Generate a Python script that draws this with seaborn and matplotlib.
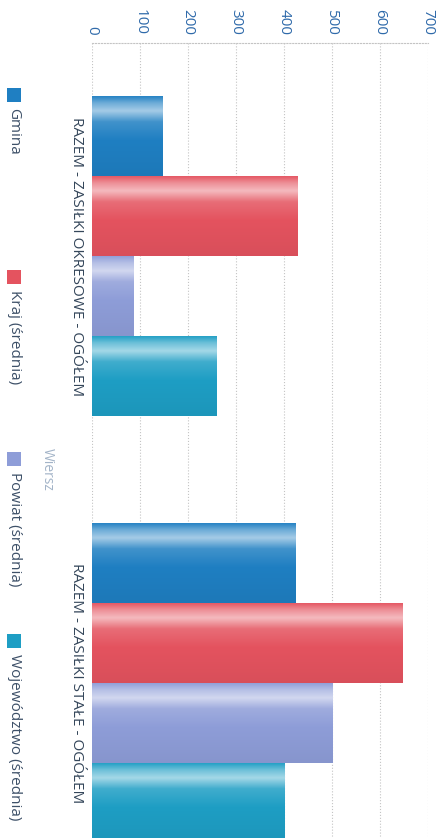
import matplotlib.pyplot as plt
import numpy as np
import pandas as pd
import seaborn as sns
from matplotlib.colors import to_rgb
from matplotlib.patches import Rectangle

categories = ["RAZEM - ZASIŁKI OKRESOWE - OGÓŁEM", "RAZEM - ZASIŁKI STAŁE - OGÓŁEM"]
series = ["Gmina", "Kraj (średnia)", "Powiat (średnia)", "Województwo (średnia)"]
gmina = [146, 425]
kraj = [429, 646]
powiat = [86, 502]
wojewodztwo = [260, 402]
value_ticks = [0, 100, 200, 300, 400, 500, 600, 700]

colors = ["#1f7fc2", "#e4535f", "#8e9dd8", "#1e9ec4"]

df = pd.DataFrame({
    "Wiersz": categories * len(series),
    "Seria": np.repeat(series, len(categories)),
    "Wartosc": gmina + kraj + powiat + wojewodztwo,
})

sns.set_theme(style="white")
plt.rcParams["font.family"] = ["Open Sans", "DejaVu Sans"]

W, H = 445, 838
fig = plt.figure(figsize=(W / 100, H / 100), dpi=100)
# chart is a rotated scan: value axis on top, categories running down
ax = fig.add_axes([92 / W, 1 - 896 / H, 336 / W, 853 / H])

sns.barplot(
    data=df, x="Wartosc", y="Wiersz", hue="Seria", orient="h",
    palette=colors, hue_order=series, order=categories,
    width=0.75, saturation=1, legend=False, ax=ax,
)

# glossy gradient across each bar's thickness
prof_t = [0.0, 0.08, 0.18, 0.32, 0.55, 1.0]
prof_w = [0.05, 0.35, 0.6, 0.15, 0.0, -0.05]
for bar in list(ax.patches):
    x0, y0 = bar.get_x(), bar.get_y()
    w, h = bar.get_width(), bar.get_height()
    base = np.array(to_rgb(bar.get_facecolor()))
    t = np.linspace(0, 1, 64)
    mix = np.interp(t, prof_t, prof_w)
    rows = []
    for m in mix:
        if m >= 0:
            rows.append(base + (1 - base) * m)
        else:
            rows.append(base * (1 + m))
    grad = np.clip(np.array(rows), 0, 1)[:, None, :]
    im = ax.imshow(grad, extent=(x0, x0 + w, y0 + h, y0), origin="upper",
                   aspect="auto", zorder=3, interpolation="bilinear")
    im.set_clip_path(bar)
    bar.set_edgecolor("none")

ax.set_xlim(0, 700)
ax.set_ylim(1.5, -0.5)
ax.xaxis.tick_top()
ax.set_xticks(value_ticks)
ax.set_xticklabels([str(v) for v in value_ticks], rotation=-90,
                   fontsize=11, color="#2f6aaa")
ax.tick_params(axis="x", length=0, pad=6)
ax.set_yticks([])
ax.set_xlabel("")
ax.set_ylabel("")
ax.grid(axis="x", linestyle=":", color="#c4c4c4", linewidth=0.8)
ax.set_axisbelow(True)
for side in ["left", "right", "bottom"]:
    ax.spines[side].set_visible(False)
ax.spines["top"].set_linestyle(":")
ax.spines["top"].set_color("#c4c4c4")
ax.spines["top"].set_linewidth(0.8)

for i, cat in enumerate(categories):
    ax.text(-16 / 336, i, cat, transform=ax.get_yaxis_transform(),
            rotation=-90, ha="center", va="center", fontsize=11,
            color="#34465a")

fig.text(47 / W, 1 - 469 / H, "Wiersz", rotation=-90, ha="center",
         va="center", fontsize=10, color="#a3b4c8")

# manual legend, stacked down the left edge
for i, (name, col) in enumerate(zip(series, colors)):
    top = 88 + i * 182
    fig.add_artist(Rectangle((7 / W, 1 - (top + 14) / H), 14 / W, 14 / H,
                             transform=fig.transFigure, facecolor=col,
                             edgecolor="none"))
    fig.text(14 / W, 1 - (top + 20) / H, name, rotation=-90, ha="center",
             va="top", fontsize=11, color="#3d5068")

fig.savefig("out.png", dpi=100)
